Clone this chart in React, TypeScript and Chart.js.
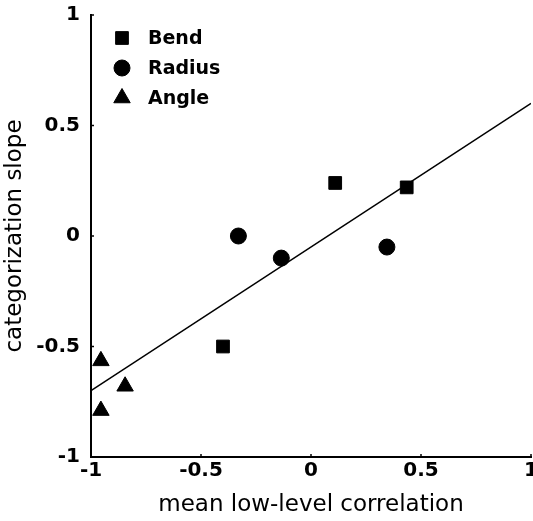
import { useEffect, useRef } from 'react';
import { Chart, registerables } from 'chart.js';
import { drawPoint } from 'chart.js/helpers';

Chart.register(...registerables);

const seriesNames = ['Bend', 'Radius', 'Angle'];
const bendX = [0.11, 0.435, -0.4];
const bendY = [0.24, 0.22, -0.5];
const radiusX = [-0.33, -0.135, 0.345];
const radiusY = [0.0, -0.1, -0.05];
const angleX = [-0.955, -0.845, -0.955];
const angleY = [-0.565, -0.68, -0.79];
const fitX = [-1, 1];
const fitY = [-0.7, 0.6];
const tickValues = [-1, -0.5, 0, 0.5, 1];

const zip = (xs: number[], ys: number[]) => xs.map((x, i) => ({ x, y: ys[i] }));

const FONT = '"DejaVu Sans", "Liberation Sans", sans-serif';

const legendPlugin = {
  id: 'insideLegend',
  afterDatasetsDraw(chart: any) {
    const ctx = chart.ctx;
    const items = chart.data.datasets.filter((d: any) => d.inLegend);
    ctx.save();
    items.forEach((d: any, i: number) => {
      const cy = 38 + i * 30;
      ctx.fillStyle = '#000';
      ctx.strokeStyle = '#000';
      drawPoint(ctx, { pointStyle: d.pointStyle, radius: d.legendRadius, borderWidth: 1, rotation: 0 }, 122, cy);
      ctx.font = `bold 19px ${FONT}`;
      ctx.textBaseline = 'middle';
      ctx.textAlign = 'left';
      ctx.fillText(d.label, 148, cy + 1);
    });
    ctx.restore();
  },
};

const innerTicks = {
  id: 'innerTicks',
  afterDraw(chart: any) {
    const ctx = chart.ctx;
    const xs = chart.scales.x;
    const ys = chart.scales.y;
    const { left, bottom } = chart.chartArea;
    ctx.save();
    ctx.strokeStyle = '#000';
    ctx.lineWidth = 1.5;
    tickValues.forEach((v) => {
      const px = xs.getPixelForValue(v);
      ctx.beginPath();
      ctx.moveTo(px, bottom);
      ctx.lineTo(px, bottom - 3);
      ctx.stroke();
      const py = ys.getPixelForValue(v);
      ctx.beginPath();
      ctx.moveTo(left, py);
      ctx.lineTo(left + 3, py);
      ctx.stroke();
    });
    ctx.restore();
  },
};

export default function App() {
  const ref = useRef<HTMLCanvasElement>(null);
  useEffect(() => {
    if (!ref.current) return;
    const chart = new Chart(ref.current, {
      type: 'scatter',
      data: {
        datasets: [
          {
            label: 'fit',
            data: zip(fitX, fitY),
            showLine: true,
            borderColor: '#000',
            borderWidth: 1.5,
            pointRadius: 0,
            fill: false,
          } as any,
          {
            label: seriesNames[0],
            data: zip(bendX, bendY),
            pointStyle: 'rect',
            pointRadius: 9,
            backgroundColor: '#000',
            borderColor: '#000',
            borderWidth: 1,
            inLegend: true,
            legendRadius: 9,
          },
          {
            label: seriesNames[1],
            data: zip(radiusX, radiusY),
            pointStyle: 'circle',
            pointRadius: 8,
            backgroundColor: '#000',
            borderColor: '#000',
            borderWidth: 1,
            inLegend: true,
            legendRadius: 8,
          },
          {
            label: seriesNames[2],
            data: zip(angleX, angleY),
            pointStyle: 'triangle',
            pointRadius: 9.5,
            backgroundColor: '#000',
            borderColor: '#000',
            borderWidth: 1,
            inLegend: true,
            legendRadius: 9.5,
          },
        ],
      },
      options: {
        animation: false,
        responsive: false,
        layout: { autoPadding: false, padding: { top: 15, right: 2, left: 0, bottom: 0 } },
        plugins: { legend: { display: false }, tooltip: { enabled: false } },
        scales: {
          x: {
            type: 'linear',
            min: -1,
            max: 1,
            afterBuildTicks: (s: any) => {
              s.ticks = tickValues.map((v) => ({ value: v }));
            },
            afterFit: (s: any) => {
              s.height = 64;
              s.paddingLeft = 0;
              s.paddingRight = 0;
            },
            grid: { display: false, drawTicks: false },
            border: { display: true, color: '#000', width: 2 },
            ticks: {
              color: '#000',
              padding: 2,
              maxRotation: 0,
              autoSkip: false,
              font: { family: FONT, size: 20, weight: 'bold' },
              callback: (v: any) => String(v),
            },
            title: {
              display: true,
              text: 'mean low-level correlation',
              color: '#000',
              font: { family: FONT, size: 23, weight: 'normal', lineHeight: 1 },
              padding: { top: 0, bottom: 4 },
            },
          },
          y: {
            type: 'linear',
            min: -1,
            max: 1,
            afterBuildTicks: (s: any) => {
              s.ticks = tickValues.map((v) => ({ value: v }));
            },
            afterFit: (s: any) => {
              s.width = 91;
              s.paddingTop = 0;
              s.paddingBottom = 0;
            },
            grid: { display: false, drawTicks: false },
            border: { display: true, color: '#000', width: 2 },
            ticks: {
              color: '#000',
              padding: 11,
              autoSkip: false,
              font: { family: FONT, size: 20, weight: 'bold' },
              callback: (v: any) => String(v),
            },
            title: {
              display: true,
              text: 'categorization slope',
              color: '#000',
              font: { family: FONT, size: 23, weight: 'normal', lineHeight: 1 },
              padding: { top: 4, bottom: 0 },
            },
          },
        },
      } as any,
      plugins: [legendPlugin, innerTicks],
    });
    return () => chart.destroy();
  }, []);
  return (
    <div style={{ position: 'fixed', left: 0, top: 0, width: 533, height: 521, background: '#fff' }}>
      <canvas ref={ref} width={533} height={521} />
    </div>
  );
}
